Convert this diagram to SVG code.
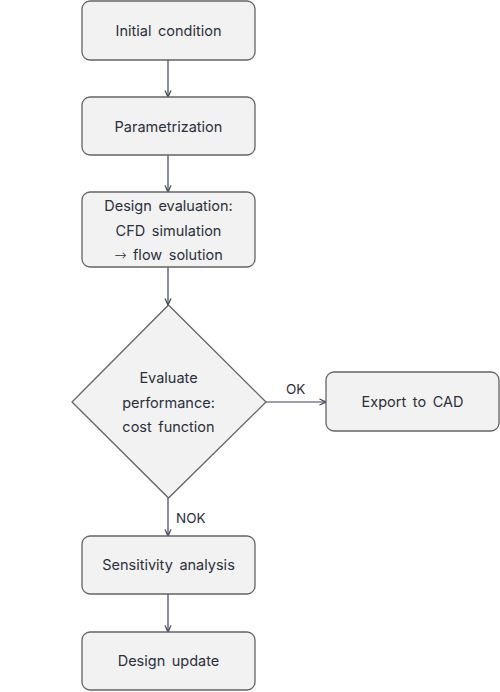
<svg xmlns="http://www.w3.org/2000/svg" width="500" height="692" viewBox="0 0 500 692">
<defs>
<style>
.box{fill:#f2f2f2;stroke:#646464;stroke-width:1.3}
.t{font-family:Inter,"Noto Sans",sans-serif;font-size:14.5px;fill:#2b2f3b;text-anchor:middle;word-spacing:2.5px}
.lbl{font-family:Inter,"Noto Sans",sans-serif;font-size:13.5px;fill:#2b2f3b}
.c{stroke:#3d4354;stroke-width:1.2;fill:none;marker-end:url(#ah)}
.arr{font-family:"DejaVu Sans",sans-serif;font-weight:300}
</style>
<marker id="ah" viewBox="0 0 8 8" refX="7.5" refY="4" markerWidth="8" markerHeight="8" markerUnits="userSpaceOnUse" orient="auto">
<path d="M1,1 L7.5,4 L1,7" fill="none" stroke="#3d4354" stroke-width="1.2"/>
</marker>
</defs>
<rect width="500" height="692" fill="#ffffff"/>
<g id="connectors">
<line class="c" x1="168" y1="60" x2="168" y2="97"/>
<line class="c" x1="168" y1="155" x2="168" y2="192"/>
<line class="c" x1="168" y1="267" x2="168" y2="305"/>
<line class="c" x1="266" y1="402" x2="326" y2="402"/>
<line class="c" x1="168" y1="498" x2="168" y2="536"/>
<line class="c" x1="168" y1="594" x2="168" y2="632"/>
<text class="lbl" x="286" y="394">OK</text>
<text class="lbl" x="176" y="523">NOK</text>
</g>
<g id="initial">
<rect class="box" x="82" y="1" width="173" height="59" rx="8"/>
<text class="t" x="168.5" y="35.5">Initial condition</text>
</g>
<g id="param">
<rect class="box" x="82" y="97" width="173" height="58" rx="8"/>
<text class="t" x="168.5" y="131.5">Parametrization</text>
</g>
<g id="evaluation">
<rect class="box" x="82" y="192" width="173" height="75" rx="8"/>
<text class="t" x="168.5" y="211">Design evaluation:</text>
<text class="t" x="168.5" y="236">CFD simulation</text>
<text class="t" x="168.5" y="260"><tspan class="arr">→</tspan> flow solution</text>
</g>
<g id="decision">
<polygon class="box" points="168.5,305 266,402 168.5,498 72,402"/>
<text class="t" x="168.5" y="383">Evaluate</text>
<text class="t" x="168.5" y="408">performance:</text>
<text class="t" x="168.5" y="432">cost function</text>
</g>
<g id="export">
<rect class="box" x="326" y="372" width="173" height="59" rx="8"/>
<text class="t" x="412.5" y="406.5">Export to CAD</text>
</g>
<g id="sensitivity">
<rect class="box" x="82" y="536" width="173" height="58" rx="8"/>
<text class="t" x="168.5" y="569.5">Sensitivity analysis</text>
</g>
<g id="update">
<rect class="box" x="82" y="632" width="173" height="58" rx="8"/>
<text class="t" x="168.5" y="666">Design update</text>
</g>
</svg>
